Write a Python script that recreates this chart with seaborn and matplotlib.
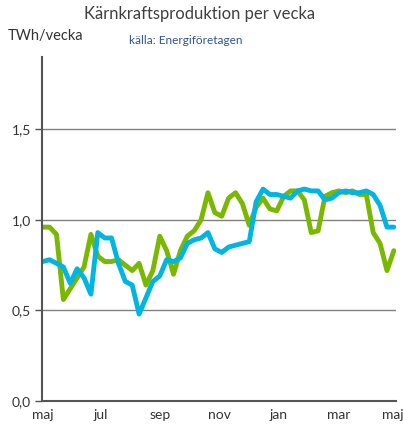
import numpy as np
import pandas as pd
import matplotlib
matplotlib.use("Agg")
import matplotlib.pyplot as plt
import seaborn as sns
from matplotlib.ticker import FuncFormatter

# veckovärden, TWh/vecka (maj -> maj)
grön = [0.96, 0.96, 0.92, 0.56, 0.62, 0.68, 0.74, 0.92, 0.80, 0.77,
        0.77, 0.78, 0.75, 0.72, 0.76, 0.64, 0.72, 0.91, 0.83, 0.70,
        0.83, 0.91, 0.94, 1.00, 1.15, 1.04, 1.02, 1.12, 1.15, 1.09,
        0.97, 1.07, 1.12, 1.06, 1.05, 1.13, 1.16, 1.16, 1.11, 0.93,
        0.94, 1.13, 1.15, 1.16, 1.15, 1.16, 1.14, 1.14, 0.93, 0.87,
        0.72, 0.83]
blå = [0.77, 0.78, 0.76, 0.74, 0.65, 0.73, 0.68, 0.59, 0.93, 0.90,
       0.90, 0.76, 0.66, 0.64, 0.48, 0.57, 0.66, 0.69, 0.78, 0.77,
       0.79, 0.87, 0.89, 0.90, 0.93, 0.84, 0.82, 0.85, 0.86, 0.87,
       0.88, 1.10, 1.17, 1.14, 1.14, 1.13, 1.12, 1.16, 1.17, 1.16,
       1.16, 1.11, 1.12, 1.15, 1.16, 1.15, 1.15, 1.16, 1.14, 1.08,
       0.96, 0.96]
månader = ["maj", "jul", "sep", "nov", "jan", "mar", "maj"]
månad_pos = [0, 8.5, 17, 25.6, 34.3, 43, 50.8]

vecka = np.arange(len(grön))
df = pd.DataFrame({
    "vecka": np.concatenate([vecka, vecka]),
    "TWh": grön + blå,
    "serie": ["grön"] * len(grön) + ["blå"] * len(blå),
})

sns.set_style("white")
plt.rcParams["font.family"] = ["Lato", "DejaVu Sans"]

fig = plt.figure(figsize=(4.04, 4.34), dpi=100)
ax = fig.add_axes([0.104, 0.076, 0.876, 0.793])

for y in [0.5, 1.0, 1.5]:
    ax.axhline(y, color="#808080", lw=1, zorder=0)

sns.lineplot(data=df, x="vecka", y="TWh", hue="serie",
             palette={"grön": "#7ab800", "blå": "#00b5e2"},
             linewidth=3.5, legend=False, ax=ax)

ax.set_xlim(-0.1, 51.3)
ax.set_ylim(0, 1.9)
ax.set_yticks([0, 0.5, 1.0, 1.5])
ax.yaxis.set_major_formatter(FuncFormatter(lambda v, p: f"{v:.1f}".replace(".", ",")))
ax.set_xticks(månad_pos)
ax.set_xticklabels(månader)
ax.tick_params(axis="y", length=5, width=1, color="#555555", labelsize=10,
               labelcolor="#333333", left=True, pad=3)
ax.tick_params(axis="x", length=0, labelsize=10, labelcolor="#333333", pad=6)
ax.set_xlabel("")
ax.set_ylabel("")

for s in ["top", "right"]:
    ax.spines[s].set_visible(False)
for s in ["left", "bottom"]:
    ax.spines[s].set_color("#555555")
    ax.spines[s].set_linewidth(1.5)

fig.text(0.495, 0.967, "Kärnkraftsproduktion per vecka", ha="center", va="center",
         fontsize=12, color="#404040")
fig.text(0.02, 0.918, "TWh/vecka", ha="left", va="center", fontsize=10.5, color="#333333")
fig.text(0.32, 0.906, "källa: Energiföretagen", ha="left", va="center",
         fontsize=8.5, color="#2f5597")

fig.savefig("out.png", dpi=100)
